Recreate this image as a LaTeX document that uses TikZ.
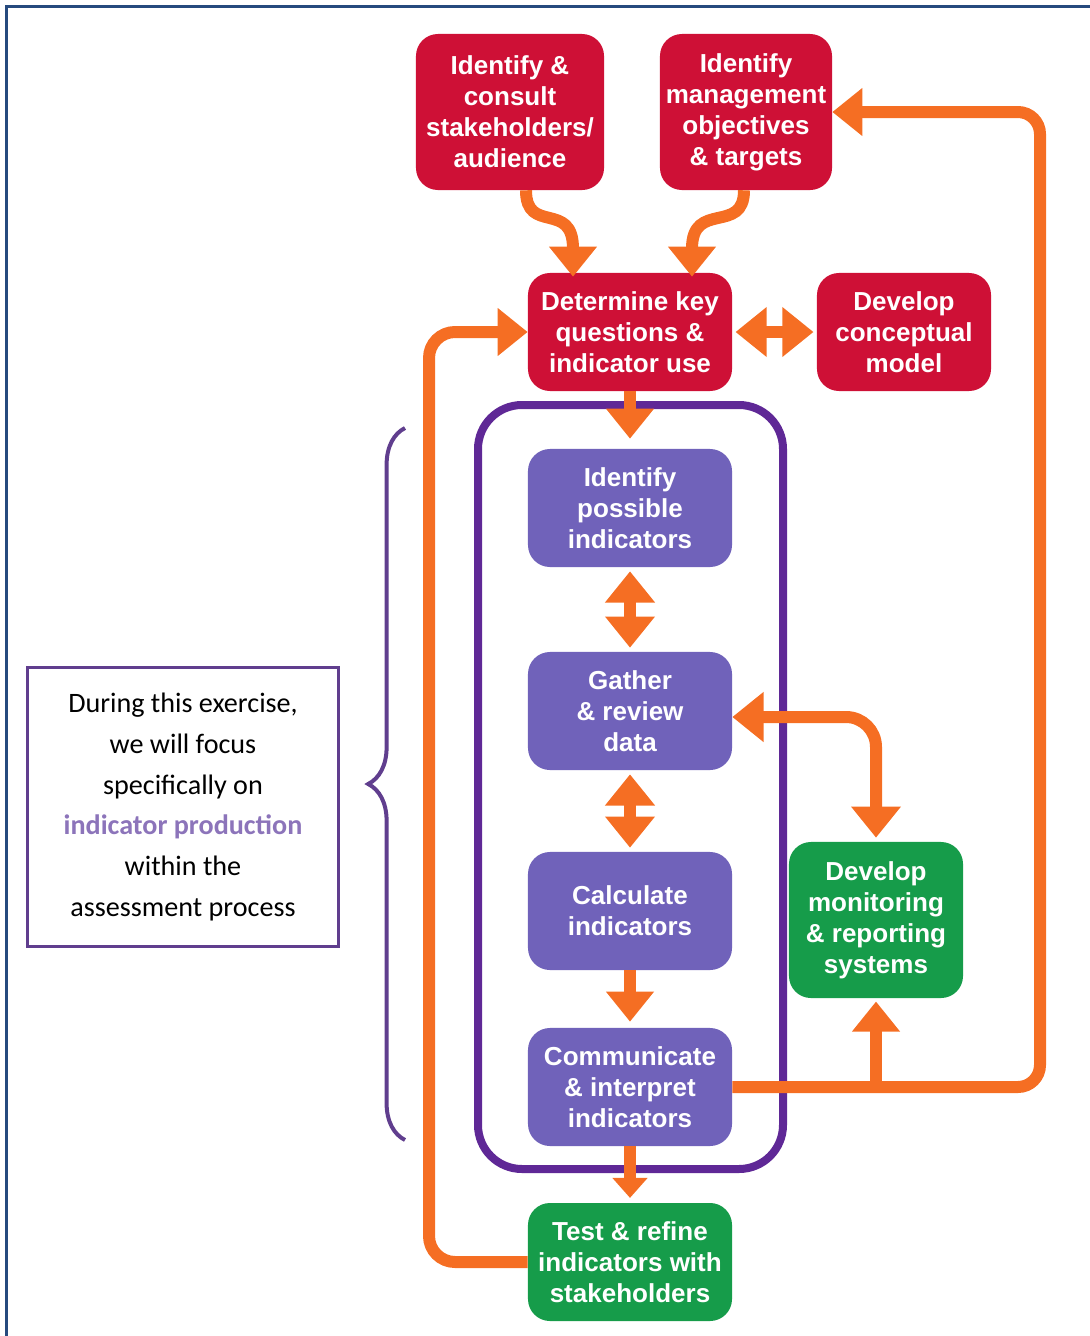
\documentclass[tikz,border=0pt]{standalone}
\usepackage{fontspec}
\setmainfont{Liberation Sans}
\newfontfamily\notefont{Carlito}
\usepackage{tikz}
\usetikzlibrary{arrows.meta,positioning,calc,decorations.pathreplacing}

\definecolor{stepred}{RGB}{206,16,54}
\definecolor{steppurple}{RGB}{112,98,186}
\definecolor{stepgreen}{RGB}{22,156,74}
\definecolor{floworange}{RGB}{245,110,35}
\definecolor{framepurple}{RGB}{95,40,150}
\definecolor{bracepurple}{RGB}{96,62,142}
\definecolor{notepurple}{RGB}{140,116,186}
\definecolor{edgeblue}{RGB}{38,74,126}

\begin{document}
\begin{tikzpicture}[x=0.025cm, y=-0.025cm,
    box/.style={rounded corners=0.55cm, inner sep=0pt, align=center, text=white,
        font=\bfseries\fontsize{18.5}{22}\selectfont,
        minimum width=5.1cm, minimum height=2.95cm},
    redbox/.style={box, fill=stepred},
    purplebox/.style={box, fill=steppurple},
    greenbox/.style={box, fill=stepgreen},
    flow/.style={draw=floworange, line width=0.3cm,
        -{Triangle[width=1.15cm,length=0.75cm]}},
    twohead/.style={{Triangle[width=1.2cm,length=0.78cm]}-{Triangle[width=1.2cm,length=0.78cm]}}]
    \useasboundingbox (0,0) rectangle (1090,1336);
    \draw[edgeblue, line width=0.075cm] (6.5,1336) -- (6.5,6.5) -- (1090,6.5);

    \node[redbox, minimum width=4.7cm, minimum height=3.9cm] (stake) at (510,112) {Identify \&\\consult\\stakeholders/\\audience};
    \node[redbox, minimum width=4.3cm, minimum height=3.9cm] (objectives) at (746,112) {Identify\\management\\objectives\\\& targets};
    \node[redbox] (questions) at (630,332) {Determine key\\questions \&\\indicator use};
    \node[redbox, minimum width=4.35cm] (model) at (904,332) {Develop\\conceptual\\model};

    \draw[framepurple, line width=0.2cm, rounded corners=1.1cm] (478,405) rectangle (783,1169);

    \node[purplebox] (possible) at (630,508) {Identify\\possible\\indicators};
    \node[purplebox] (gather) at (630,711) {Gather\\\& review\\data};
    \node[purplebox] (calculate) at (630,911) {Calculate\\indicators};
    \node[purplebox] (communicate) at (630,1087) {Communicate\\\& interpret\\indicators};
    \node[greenbox] (testrefine) at (630,1262) {Test \& refine\\indicators with\\stakeholders};
    \node[greenbox, minimum width=4.35cm, minimum height=3.9cm] (monitoring) at (876,920) {Develop\\monitoring\\\& reporting\\systems};

    \node[draw=bracepurple, line width=0.075cm, minimum width=7.75cm, minimum height=6.95cm,
        align=center, font=\notefont\fontsize{20}{29}\selectfont] (focusnote) at (183,807)
        {During this exercise,\\we will focus\\specifically on\\{\color{notepurple}\bfseries indicator production}\\within the\\assessment process};
    \draw[bracepurple, line width=0.1cm, decorate, decoration={brace, amplitude=0.92cm}] (405,1140) -- (405,428);

    \coordinate (leftrail) at (429,800);
    \coordinate (rightrail) at (1040,600);

    \draw[flow] (stake.south -| 526,0) .. controls (526,235) and (573,200) .. ([yshift=-0.1cm]questions.north -| 573,0);
    \draw[flow] (objectives.south -| 744,0) .. controls (744,235) and (692,200) .. ([yshift=-0.1cm]questions.north -| 692,0);
    \draw[flow, twohead, shorten <=0.08cm, shorten >=0.08cm] (questions.east) -- (model.west);
    \draw[flow, rounded corners=0.65cm] (testrefine.west) -| (leftrail) |- (questions.west);
    \draw[flow, shorten >=0.25cm] (questions.south) -- (possible.north);
    \draw[flow, twohead, shorten <=0.1cm, shorten >=0.1cm] (possible.south) -- (gather.north);
    \draw[flow, twohead, shorten <=0.1cm, shorten >=0.1cm] (gather.south) -- (calculate.north);
    \draw[flow, shorten >=0.15cm] (calculate.south) -- (communicate.north);
    \draw[flow, -{Triangle[width=0.85cm,length=0.5cm]}, shorten >=0.12cm] (communicate.south) -- (testrefine.north);
    \draw[flow, twohead, rounded corners=0.75cm, shorten >=0.1cm] ([yshift=-0.15cm]gather.east) -| (monitoring.north);
    \draw[flow, rounded corners=0.55cm] (communicate.east) -| (rightrail) |- (objectives.east);
    \draw[flow, shorten >=0.08cm] (communicate.east -| monitoring.south) -- (monitoring.south);
\end{tikzpicture}
\end{document}
